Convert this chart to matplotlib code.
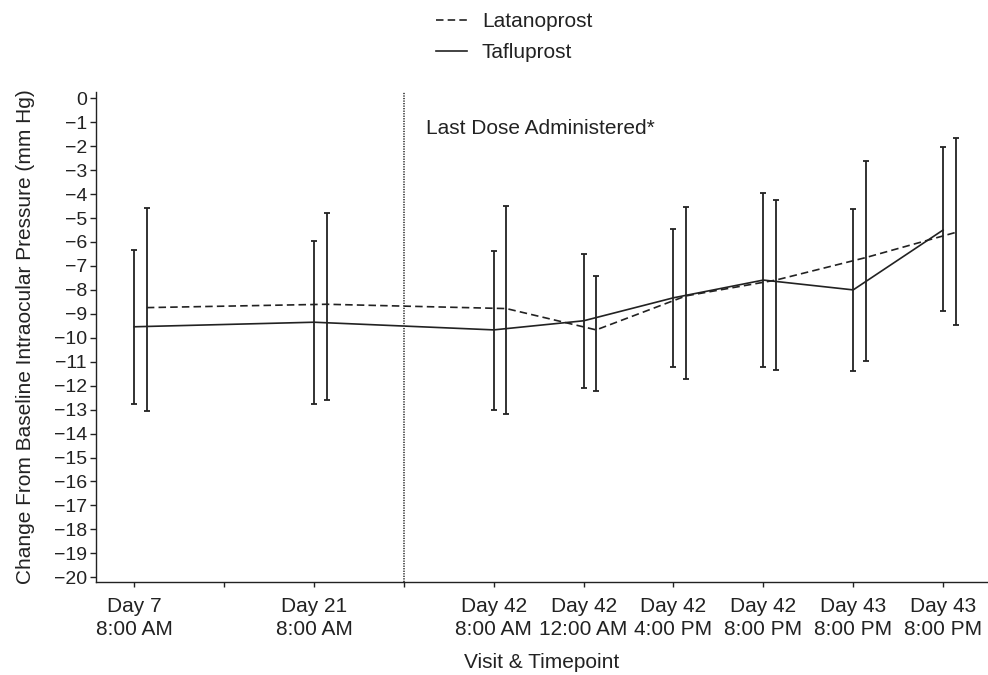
import matplotlib
matplotlib.use("Agg")
import matplotlib.pyplot as plt
import numpy as np

plt.rcParams['font.family'] = ['Liberation Sans', 'DejaVu Sans']

# ---- data ----
tick_labels = ["Day 7\n8:00 AM", "", "Day 21\n8:00 AM", "",
               "Day 42\n8:00 AM", "Day 42\n12:00 AM", "Day 42\n4:00 PM",
               "Day 42\n8:00 PM", "Day 43\n8:00 PM", "Day 43\n8:00 PM"]
tick_pos = list(range(10))
point_pos = [0, 2, 4, 5, 6, 7, 8, 9]
last_dose_pos = 3

taf_mean = [-9.54, -9.35, -9.67, -9.29, -8.33, -7.59, -8.00, -5.50]
taf_high = [-6.33, -5.95, -6.36, -6.51, -5.47, -3.94, -4.62, -2.03]
taf_low = [-12.78, -12.78, -13.01, -12.08, -11.23, -11.23, -11.39, -8.89]

lat_mean = [-8.74, -8.60, -8.78, -9.67, -8.25, -7.59, -6.65, -5.60]
lat_high = [-4.57, -4.78, -4.50, -7.43, -4.55, -4.26, -2.61, -1.67]
lat_low = [-13.06, -12.61, -13.18, -12.21, -11.71, -11.34, -10.97, -9.48]

yticks = list(range(0, -21, -1))

# ---- figure ----
W, H = 988, 675
fig = plt.figure(figsize=(W / 100, H / 100), dpi=100)
ax = fig.add_axes([96 / W, 1 - 582.3 / H, (W - 96) / W, (582.3 - 91.7) / H])

col = '#222222'
offset = 0.14
xt = np.array(point_pos, dtype=float)
xl = xt + offset

tm = np.array(taf_mean); lm = np.array(lat_mean)
ax.errorbar(xt, tm, yerr=[tm - np.array(taf_low), np.array(taf_high) - tm],
            fmt='none', ecolor=col, elinewidth=1.3, capsize=2.5, capthick=1.3)
ax.errorbar(xl, lm, yerr=[lm - np.array(lat_low), np.array(lat_high) - lm],
            fmt='none', ecolor=col, elinewidth=1.3, capsize=2.5, capthick=1.3)

ax.plot(xl, lm, color=col, lw=1.2, ls=(0, (4.5, 2.5)), label='Latanoprost')
ax.plot(xt, tm, color=col, lw=1.2, ls='-', label='Tafluprost')

ax.axvline(last_dose_pos, color='#444444', lw=1.3, ls=(0, (0.7, 0.7)))
ax.text(3.245, -1.25, "Last Dose Administered*", fontsize=15, color=col,
        ha='left', va='center')

ax.set_xlim(-0.426, 9.5)
ax.set_ylim(-20.21, 0.276)
ax.set_xticks(tick_pos)
ax.set_xticklabels(tick_labels, fontsize=15, color=col, linespacing=1.25)
ax.set_yticks(yticks)
ax.set_yticklabels([f"{v}".replace('-', '\u2212') for v in yticks], fontsize=14, color=col)
for s in ['top', 'right']:
    ax.spines[s].set_visible(False)
for s in ['left', 'bottom']:
    ax.spines[s].set_color(col)
    ax.spines[s].set_linewidth(1.0)
ax.tick_params(axis='y', length=4.5, width=1.0, color=col, pad=2)
ax.tick_params(axis='x', length=3.5, width=1.0, color=col, pad=7)

ax.set_ylabel("Change From Baseline Intraocular Pressure (mm Hg)", fontsize=15, color=col)
ax.yaxis.set_label_coords(-0.068, 0.5)
ax.set_xlabel("Visit & Timepoint", fontsize=15, color=col, labelpad=10)

leg = ax.legend(loc='upper left', bbox_to_anchor=(436 / W, 1 - 12 / H),
                bbox_transform=fig.transFigure, frameon=False, fontsize=15,
                handlelength=1.5, handletextpad=0.7, labelspacing=0.57,
                borderaxespad=0, borderpad=0)
for t in leg.get_texts():
    t.set_color(col)

fig.savefig("out.png", dpi=100)
